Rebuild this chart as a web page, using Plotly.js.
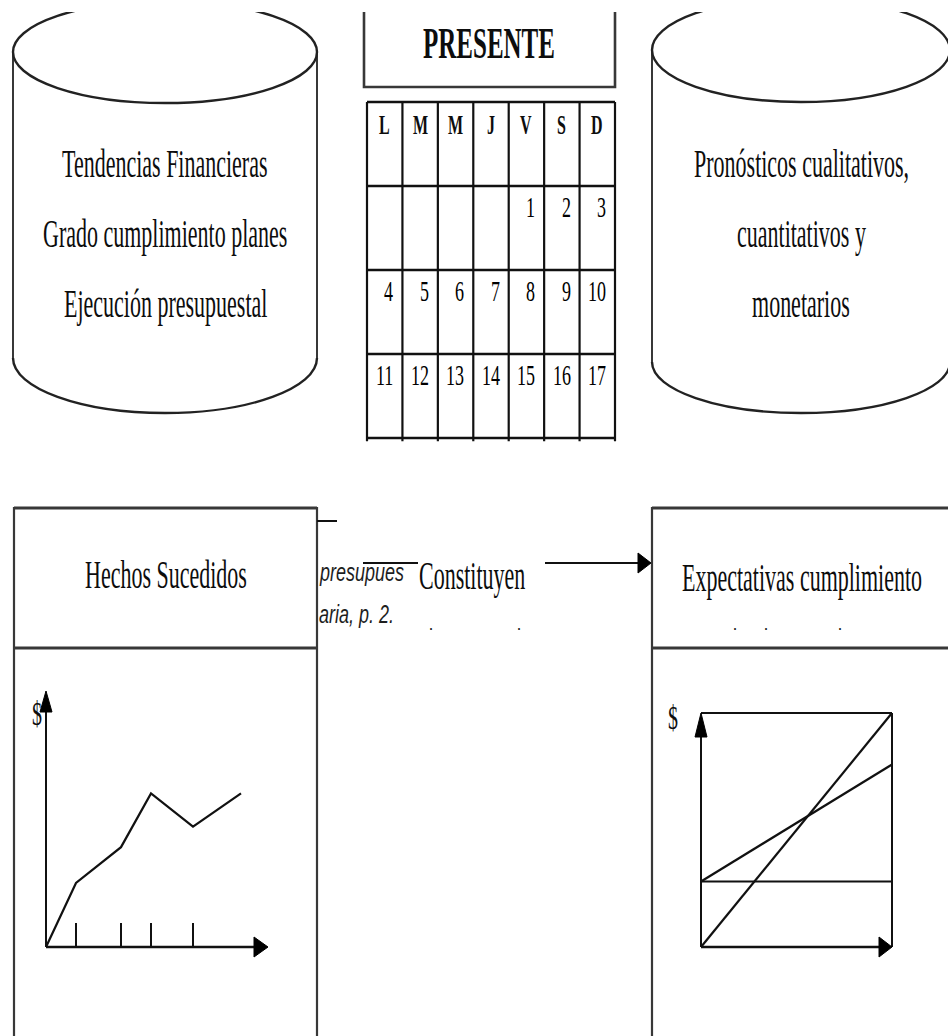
<!DOCTYPE html>
<html><head><meta charset="utf-8">
<script src="https://cdn.plot.ly/plotly-3.0.1.min.js"></script>
<style>html,body{margin:0;padding:0;background:#fff}#chart{width:948px;height:1036px}</style>
</head><body><div id="chart"></div>
<script>
// ---------------- data ----------------
const pastLines = ['Tendencias Financieras', 'Grado cumplimiento planes', 'Ejecución presupuestal'];
const futureLines = ['Pronósticos cualitativos,', 'cuantitativos y', 'monetarios'];
const presentLabel = 'PRESENTE';
const weekdays = ['L', 'M', 'M', 'J', 'V', 'S', 'D'];
const week1 = [null, null, null, null, 1, 2, 3];
const week2 = [4, 5, 6, 7, 8, 9, 10];
const week3 = [11, 12, 13, 14, 15, 16, 17];
const pastTitle = 'Hechos Sucedidos';
const linkLabel = 'Constituyen';
const futureTitle = 'Expectativas cumplimiento';
const currencyLabel = '$';
const citeLines = ['presupues', 'aria, p. 2.'];
// historical chart (period, value)
const histPeriod = [0, 1, 2.5, 3.5, 4.9, 6.5];
const histValue = [0, 2.5, 3.9, 6.0, 4.7, 6.0];
const histTicks = [1, 2.5, 3.5, 4.9];
// projection chart (volume vs $)
const projVolume = [0, 10];
const fixedCost = [2.8, 2.8];
const totalCost = [2.8, 7.8];
const revenue = [0, 10];

// ---------------- layout helpers ----------------
const W = 948, H = 1036, TOP = 12;
const INK = '#0d0d0d', BOX = '#383838';
const SERIF = '"Liberation Serif", "Times New Roman", serif';
const SANS = '"Liberation Sans Narrow", "Liberation Sans", sans-serif';

function frame(px0, px1, pyTop, pyBot, xr, yr, pad) {
  const ux = (xr[1] - xr[0]) / (px1 - px0), uy = (yr[1] - yr[0]) / (pyBot - pyTop);
  return {
    domX: [(px0 - pad) / W, (px1 + pad) / W],
    domY: [(H - (pyBot + pad)) / (H - TOP), (H - (pyTop - pad)) / (H - TOP)],
    rangeX: [xr[0] - pad * ux, xr[1] + pad * ux],
    rangeY: [yr[0] - pad * uy, yr[1] + pad * uy],
    axisY: (H - pyBot) / (H - TOP)
  };
}
const cal = frame(367, 615, 102, 438, [0, 7], [4, 0], 6);
const hist = frame(46, 268, 691, 947, [0, 7.4], [0, 10], 6);
const proj = frame(701, 892, 713, 947, [0, 10], [0, 10], 6);

const shapes = [];
function seg(xref, yref, x0, y0, x1, y1, color, w) {
  shapes.push({type: 'line', xref, yref, x0, y0, x1, y1, line: {color, width: w}});
}
function pth(path, color, w, fill) {
  shapes.push({type: 'path', xref: 'x', yref: 'y', path, line: {color, width: w}, fillcolor: fill || 'rgba(0,0,0,0)'});
}
function halfEllipse(cx, cy, rx, ry) {
  const k = 0.5523;
  return `M${cx - rx},${cy} C${cx - rx},${cy + k * ry} ${cx - k * rx},${cy + ry} ${cx},${cy + ry} ` +
         `C${cx + k * rx},${cy + ry} ${cx + rx},${cy + k * ry} ${cx + rx},${cy}`;
}
function cylinder(x0, x1, topCy, topRy, botCy, botRy) {
  const cx = (x0 + x1) / 2, rx = (x1 - x0) / 2;
  shapes.push({type: 'circle', xref: 'x', yref: 'y', x0, x1, y0: topCy - topRy, y1: topCy + topRy,
               line: {color: '#222', width: 2.4}});
  seg('x', 'y', x0, topCy, x0, botCy, '#222', 1.8);
  seg('x', 'y', x1, topCy, x1, botCy, '#222', 1.8);
  pth(halfEllipse(cx, botCy, rx, botRy), '#222', 2.4);
}
function head(tx, ty, dir, len, half) {
  let p;
  if (dir === 'up') p = `M${tx - half},${ty + len} L${tx},${ty} L${tx + half},${ty + len} Z`;
  else p = `M${tx - len},${ty - half} L${tx},${ty} L${tx - len},${ty + half} Z`;
  pth(p, '#000', 1, '#000');
}

// cylinders
cylinder(13, 317, 52, 51, 358, 55);
cylinder(652, 950, 50, 52, 362, 51);
// PRESENTE box
pth('M364,0 L364,87 L615,87 L615,0', BOX, 2.6);
// calendar grid
for (let r = 0; r <= 4; r++) seg('x3', 'y3', 0, r, 7, r, '#111', 2.4);
for (let c = 0; c <= 7; c++) seg('x3', 'y3', c, 0, c, 4.04, '#111', 2.2);
// bottom boxes
pth('M14,1045 L14,508 L317,508 L317,1045', BOX, 2.2);
seg('x', 'y', 14, 508, 317, 508, BOX, 3);
seg('x', 'y', 14, 648, 317, 648, BOX, 3);
pth('M652,1045 L652,508 L955,508', BOX, 2.2);
seg('x', 'y', 652, 508, 955, 508, BOX, 3);
seg('x', 'y', 652, 648, 955, 648, BOX, 3);
// connectors
seg('x', 'y', 317, 521, 337, 521, '#111', 2);
seg('x', 'y', 363, 563, 418, 563, '#111', 2);
seg('x', 'y', 545, 563, 640, 563, '#111', 2.2);
head(651, 563, 'right', 13, 10);
// historical chart axes
seg('x4', 'y4', 0, 0, 0, 9.5, '#111', 2);
seg('x4', 'y4', 0, 0, 7.0, 0, '#111', 2.4);
head(46, 691, 'up', 21, 6);
head(268, 947, 'right', 14, 10);
// projection chart frame and axes
seg('x5', 'y5', 0, 10, 10, 10, '#111', 2.2);
seg('x5', 'y5', 10, 0, 10, 10, '#111', 2);
seg('x5', 'y5', 0, 0, 0, 9.4, '#111', 2);
seg('x5', 'y5', 0, 0, 9.6, 0, '#111', 2.4);
head(701, 713, 'up', 24, 6);
head(892, 947, 'right', 13, 10);

// ---------------- annotations ----------------
const annotations = [], stretch = [];
function txt(xref, yref, x, y, text, size, opts, s) {
  opts = opts || {};
  annotations.push(Object.assign({xref, yref, x, y, text, showarrow: false,
    xanchor: 'center', yanchor: 'middle',
    font: {family: SERIF, size, color: INK}}, opts));
  stretch.push(s || 1);
}
pastLines.forEach((t, i) => txt('x', 'y', 165, 163 + 70 * i, t, 22, {}, 1.8));
futureLines.forEach((t, i) => txt('x', 'y', 801, 163 + 70 * i, t, 22, {}, 1.8));
txt('x', 'y', 489, 43, '<b>' + presentLabel + '</b>', 25, {}, 1.75);
weekdays.forEach((d, c) => txt('x3', 'y3', c + 0.5, 0.27, '<b>' + d + '</b>', 16, {}, 1.75));
[week1, week2, week3].forEach((wk, r) => wk.forEach((n, c) => {
  if (n !== null) txt('x3', 'y3', c + 1, r + 1.25, String(n), 18,
    {xanchor: 'right', xshift: -7, font: {family: SERIF, size: 18, color: '#000'}}, 1.65);
}));
txt('x', 'y', 166, 574, pastTitle, 22, {}, 1.8);
txt('x', 'y', 472, 575, linkLabel, 22, {}, 1.8);
txt('x', 'y', 802, 577, futureTitle, 22, {}, 1.8);
[431, 519, 735, 766, 840].forEach(x => txt('x', 'y', x, 624, '.', 16, {}, 1));
txt('x', 'y', 317, 572, '<i>' + citeLines[0] + '</i>', 18,
    {xanchor: 'left', font: {family: SANS, size: 18, color: '#1e1e1e'}}, 1.45);
txt('x', 'y', 317, 614, '<i>' + citeLines[1] + '</i>', 18,
    {xanchor: 'left', font: {family: SANS, size: 18, color: '#1e1e1e'}}, 1.45);
txt('x', 'y', 37, 713, currencyLabel, 20, {}, 1.7);
txt('x', 'y', 673, 717, currencyLabel, 20, {}, 1.7);

// ---------------- traces ----------------
const lineStyle = {color: '#111', width: 2.2};
const data = [
  {x: [], y: [], xaxis: 'x', yaxis: 'y', type: 'scatter', mode: 'lines', showlegend: false},
  {x: histPeriod, y: histValue, xaxis: 'x4', yaxis: 'y4', type: 'scatter', mode: 'lines',
   name: 'Hechos sucedidos', line: lineStyle, showlegend: false},
  {x: projVolume, y: fixedCost, xaxis: 'x5', yaxis: 'y5', type: 'scatter', mode: 'lines',
   name: 'Costos fijos', line: lineStyle, showlegend: false},
  {x: projVolume, y: totalCost, xaxis: 'x5', yaxis: 'y5', type: 'scatter', mode: 'lines',
   name: 'Costos totales', line: lineStyle, showlegend: false},
  {x: projVolume, y: revenue, xaxis: 'x5', yaxis: 'y5', type: 'scatter', mode: 'lines',
   name: 'Ingresos', line: lineStyle, showlegend: false}
];

const hidden = {visible: false, fixedrange: true};
const layout = {
  width: W, height: H,
  margin: {l: 0, r: 0, t: TOP, b: 0, pad: 0},
  paper_bgcolor: '#fff', plot_bgcolor: 'rgba(0,0,0,0)',
  showlegend: false,
  xaxis: Object.assign({range: [0, W], domain: [0, 1]}, hidden),
  yaxis: Object.assign({range: [H, TOP], domain: [0, 1]}, hidden),
  xaxis3: Object.assign({range: cal.rangeX, domain: cal.domX, anchor: 'y3'}, hidden),
  yaxis3: Object.assign({range: cal.rangeY, domain: cal.domY, anchor: 'x3'}, hidden),
  xaxis4: {range: hist.rangeX, domain: hist.domX, anchor: 'free', position: hist.axisY,
           showgrid: false, zeroline: false, showline: false, showticklabels: false,
           ticks: 'inside', ticklen: 24, tickwidth: 1.6, tickcolor: '#111',
           tickmode: 'array', tickvals: histTicks, fixedrange: true},
  yaxis4: Object.assign({range: hist.rangeY, domain: hist.domY, anchor: 'x4'}, hidden),
  xaxis5: Object.assign({range: proj.rangeX, domain: proj.domX, anchor: 'y5'}, hidden),
  yaxis5: Object.assign({range: proj.rangeY, domain: proj.domY, anchor: 'x5'}, hidden),
  shapes, annotations
};

Plotly.newPlot('chart', data, layout, {staticPlot: true, displayModeBar: false}).then(gd => {
  gd.querySelectorAll('g.annotation').forEach(g => {
    const i = +g.getAttribute('data-index');
    const s = stretch[i];
    if (!s || s === 1) return;
    const t = g.querySelector('text.annotation-text');
    if (!t) return;
    const b = t.getBBox();
    const cy = b.y + b.height / 2;
    t.setAttribute('transform', `translate(0 ${cy}) scale(1 ${s}) translate(0 ${-cy})`);
  });
});
</script>
</body></html>
